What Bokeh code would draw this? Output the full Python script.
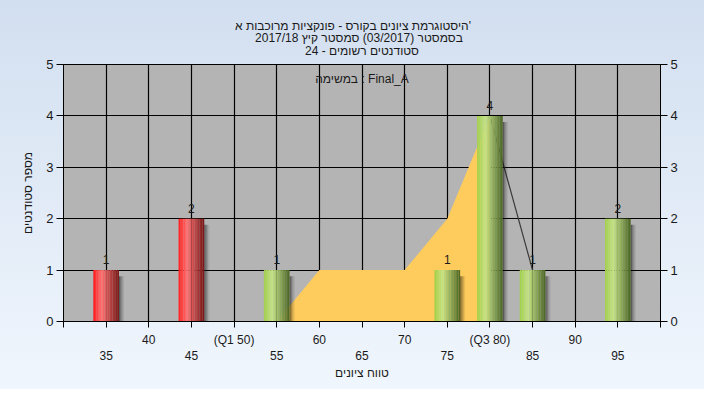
from bokeh.plotting import figure
from bokeh.models import Range1d, LinearAxis, FixedTicker, Label, Title
from bokeh.core.properties import value
from bokeh.embed import file_html
from bokeh.resources import INLINE
import numpy as np

# ---------------- data ----------------
title_lines = [
    "היסטוגרמת ציונים בקורס - פונקציות מרוכבות א'",
    "בסמסטר (03/2017) סמסטר קיץ 2017/18",
    "סטודנטים רשומים - 24",
]
legend_text = "במשימה : Final_A"
x_title = "טווח ציונים"
y_title = "מספר סטודנטים"

bar_x = [35, 45, 55, 75, 80, 85, 95]
bar_y = [1, 2, 1, 1, 4, 1, 2]
bar_kind = ["fail", "fail", "pass", "pass", "pass", "pass", "pass"]

area_x = [55, 60, 65, 70, 75, 80, 85]
area_y = [0, 1, 1, 1, 2, 4, 1]

x_ticks = [30, 35, 40, 45, 50, 55, 60, 65, 70, 75, 80, 85, 90, 95, 100]
upper_tick_labels = {40: "40", 50: "(Q1 50)", 60: "60", 70: "70", 80: "(Q3 80)", 90: "90"}
lower_ticks = [35, 45, 55, 65, 75, 85, 95]
y_ticks = [0, 1, 2, 3, 4, 5]

# ---------------- style ----------------
FONT = "Liberation Sans"
TXT = "#1a1a1a"
BAR_W = 3.0
N_STRIPS = 16
title_pad = [0, 6, 21]   # non-breaking spaces each side to centre the shorter title lines
stops = {
    "fail": [(0.0, (255, 25, 25)), (0.33, (255, 115, 115)), (1.0, (115, 20, 20))],
    "pass": [(0.0, (160, 208, 72)), (0.33, (198, 228, 135)), (1.0, (74, 100, 36))],
}


def grad_color(kind, t):
    st = stops[kind]
    for (t0, c0), (t1, c1) in zip(st[:-1], st[1:]):
        if t <= t1:
            f = (t - t0) / (t1 - t0)
            c = [int(round(a + (b - a) * f)) for a, b in zip(c0, c1)]
            return "#%02x%02x%02x" % tuple(c)
    return "#%02x%02x%02x" % st[-1][1]


title_text = "\n".join("\u00a0" * n + line + "\u00a0" * n for line, n in zip(title_lines, title_pad))
title = Title(text=title_text, align="center", vertical_align="top", text_font_size="12px",
              text_font=FONT, text_font_style="normal", text_color=TXT,
              text_line_height=0.9, standoff=10)

p = figure(width=704, height=389, output_backend="svg", toolbar_location=None,
           x_range=Range1d(30, 100), y_range=Range1d(0, 5), title=title,
           min_border_left=63, min_border_right=44, min_border_top=64, min_border_bottom=68,
           background_fill_color="#b4b4b4", border_fill_alpha=0,
           outline_line_color="black", outline_line_width=1,
           styles={"background": "linear-gradient(to bottom, #d2dff0, #f0f6fd)"})

# grid
p.xgrid.ticker = FixedTicker(ticks=x_ticks)
p.ygrid.ticker = FixedTicker(ticks=y_ticks)
for g in (p.xgrid, p.ygrid):
    g.grid_line_color = "black"
    g.grid_line_width = 1.2
    g.grid_line_alpha = 1

# x axes
ax1 = p.xaxis[0]
ax1.ticker = FixedTicker(ticks=x_ticks)
ax1.major_label_overrides = {t: upper_tick_labels.get(t, "") for t in x_ticks}
ax1.major_tick_out = 6
ax1.major_tick_in = 0
ax1.major_label_standoff = 5
ax1.minor_tick_line_color = None
ax1.axis_line_color = "black"
ax1.major_tick_line_color = "black"

ax2 = LinearAxis(ticker=FixedTicker(ticks=lower_ticks), axis_label=x_title)
ax2.major_tick_out = 0
ax2.major_tick_in = 0
ax2.major_label_standoff = 1
ax2.axis_line_color = None
ax2.major_tick_line_color = None
ax2.minor_tick_line_color = None
ax2.axis_label_standoff = 3
p.add_layout(ax2, "below")

# y axes
ayl = p.yaxis[0]
ayr = LinearAxis()
p.add_layout(ayr, "right")
for a in (ayl, ayr):
    a.ticker = FixedTicker(ticks=y_ticks)
    a.major_tick_out = 7
    a.major_tick_in = 0
    a.major_label_standoff = 3
    a.minor_tick_line_color = None
    a.axis_line_color = "black"
    a.major_tick_line_color = "black"
    a.major_label_text_font_size = "13px"
ayl.axis_label = y_title
ayl.axis_label_standoff = 8

for a in (ax1, ax2, ayl, ayr):
    a.major_label_text_font = FONT
    a.major_label_text_color = TXT
    a.axis_label_text_font = FONT
    a.axis_label_text_font_size = "12px"
    a.axis_label_text_font_style = "normal"
    a.axis_label_text_color = TXT
ax1.major_label_text_font_size = "12px"
ax2.major_label_text_font_size = "12px"

# orange area up to Q3 and its falling edge
k = area_x.index(80)
p.varea(x=area_x[:k + 1], y1=0, y2=area_y[:k + 1], fill_color="#fecc5c", fill_alpha=1)
p.line(x=area_x[k:], y=area_y[k:], line_color="#3a3a3a", line_width=1.2)

# bars: shadow + vertical gradient strips
bx = np.array(bar_x, dtype=float)
by = np.array(bar_y, dtype=float)
sh_alpha = [0.5, 0.32, 0.18, 0.08]
for j, al in enumerate(sh_alpha):
    p.vbar(x=bx + BAR_W / 2 + 0.08 + j * 0.15, width=0.15, bottom=-0.06, top=by - 0.12,
           fill_color="black", fill_alpha=al, line_color=None)

sw = BAR_W / N_STRIPS
for kind in ("fail", "pass"):
    idx = [i for i, kd in enumerate(bar_kind) if kd == kind]
    for s in range(N_STRIPS):
        t = (s + 0.5) / N_STRIPS
        xs = bx[idx] - BAR_W / 2 + sw * (s + 0.5)
        p.vbar(x=xs, width=sw * 1.06, bottom=0, top=by[idx],
               fill_color=grad_color(kind, t), line_color=None)

# value labels
p.text(x=bar_x, y=bar_y, text=[str(v) for v in bar_y], text_align="center",
       text_baseline="bottom", y_offset=-6, text_font=value(FONT),
       text_font_size="12px", text_color=TXT)

# legend-like caption
p.add_layout(Label(x=65, y=5, text=legend_text, text_align="center", text_baseline="top",
                   y_offset=-7, text_font=FONT, text_font_size="12px", text_color=TXT))

open("out.html", "w").write(file_html(p, INLINE))
